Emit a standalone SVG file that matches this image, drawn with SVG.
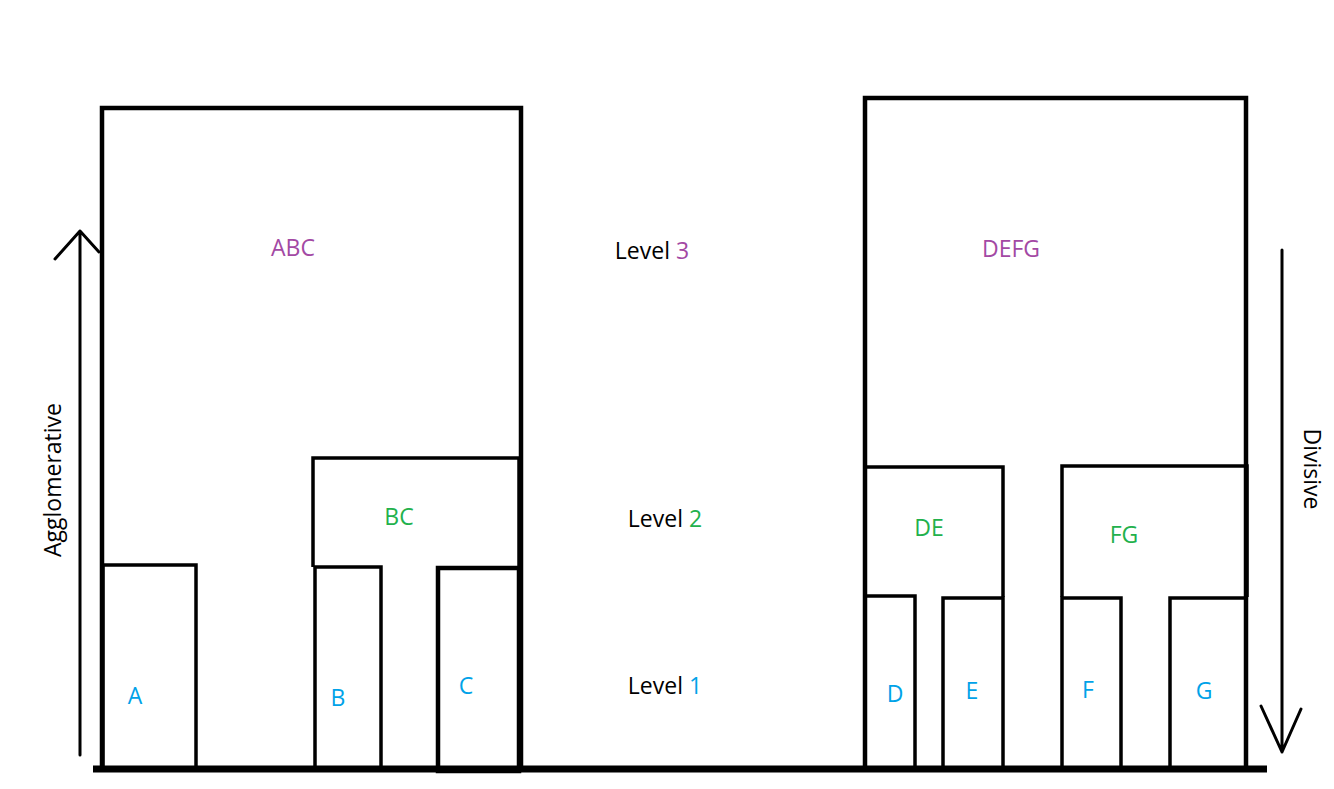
<svg xmlns="http://www.w3.org/2000/svg" width="1334" height="789" viewBox="0 0 1334 789">
<style>
.box{fill:none;stroke:#000;stroke-width:3.5}
.thick{fill:none;stroke:#000;stroke-width:4.5}
.ln{fill:none;stroke:#000;stroke-width:3;stroke-linecap:round;stroke-linejoin:round}
text{font-family:"Open Sans","Noto Sans",sans-serif;font-size:23px;text-anchor:middle;dominant-baseline:central}
.p{fill:#A349A4}.g{fill:#22B14C}.b{fill:#00A2E8}.k{fill:#000}
</style>
<rect width="1334" height="789" fill="#fff"/>
<g id="node-ABC"><rect class="thick" x="102" y="108" width="419" height="661"/><text class="p" x="293" y="247">ABC</text></g>
<g id="node-BC"><path class="box" d="M313 567 V458 H519 V567"/><text class="g" x="399" y="516">BC</text></g>
<g id="node-A"><rect class="box" x="103" y="565" width="93" height="204"/><text class="b" x="135" y="695">A</text></g>
<g id="node-B"><rect class="box" x="315" y="567" width="66" height="202"/><text class="b" x="338" y="697">B</text></g>
<g id="node-C"><rect class="thick" x="438" y="568" width="81" height="203"/><text class="b" x="466" y="685">C</text></g>
<g id="node-DEFG"><rect class="thick" x="865" y="98" width="381" height="671"/><text class="p" x="1011" y="248">DEFG</text></g>
<g id="node-DE"><path class="box" d="M865 597 V467 H1003 V597"/><text class="g" x="929" y="527">DE</text></g>
<g id="node-FG"><path class="box" d="M1062 597 V466 H1247 V597"/><text class="g" x="1124" y="534">FG</text></g>
<g id="node-D"><rect class="box" x="865" y="596" width="50" height="173"/><text class="b" x="895" y="693">D</text></g>
<g id="node-E"><rect class="box" x="943" y="598" width="60" height="171"/><text class="b" x="972" y="690">E</text></g>
<g id="node-F"><rect class="box" x="1062" y="598" width="59" height="171"/><text class="b" x="1088" y="689">F</text></g>
<g id="node-G"><rect class="box" x="1170" y="598" width="76" height="171"/><text class="b" x="1204" y="690">G</text></g>
<g id="connectors">
<line x1="93" y1="769" x2="1267" y2="769" stroke="#000" stroke-width="7"/>
<path class="ln" d="M80 755 V231 M55 259 L80 231 L99 252"/>
<path class="ln" d="M1282 250 V752 M1261 706 L1282 752 L1301 709"/>
</g>
<g id="labels">
<text class="k" x="52" y="480" transform="rotate(-90 52 480)">Agglomerative</text>
<text class="k" x="1313" y="469" transform="rotate(90 1313 469)">Divisive</text>
<text x="652" y="250"><tspan class="k">Level </tspan><tspan class="p">3</tspan></text>
<text x="665" y="518"><tspan class="k">Level </tspan><tspan class="g">2</tspan></text>
<text x="665" y="685"><tspan class="k">Level </tspan><tspan class="b">1</tspan></text>
</g>
</svg>
